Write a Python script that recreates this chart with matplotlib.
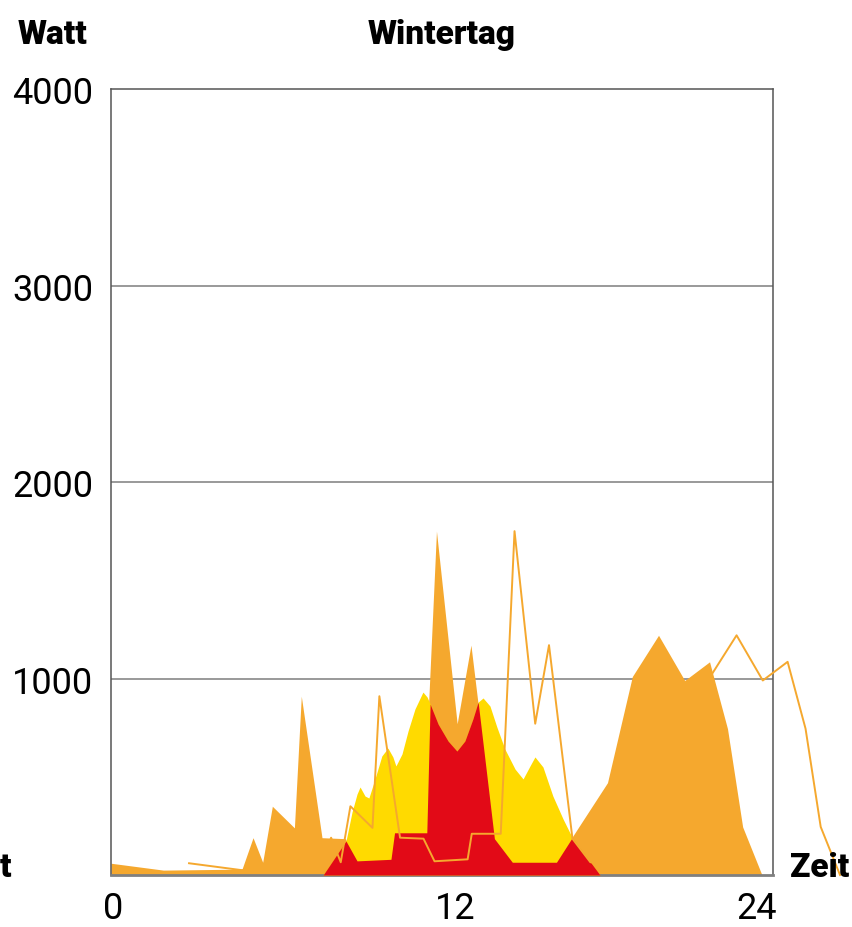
import matplotlib
matplotlib.use("Agg")
import matplotlib.pyplot as plt

# Verbrauch (orange Fläche), Stunde / Watt
verbrauch_h = [0, 1.9, 4.75, 5.15, 5.5, 5.85, 6.65, 6.9, 7.65, 8.5, 8.9, 10.1, 10.25,
               11.3, 11.8, 12.55, 13.05, 13.9, 14.55, 16.15, 16.75, 18.0, 18.9, 19.85,
               20.8, 21.7, 22.35, 22.9, 23.6]
verbrauch_w = [60, 25, 30, 190, 65, 350, 240, 910, 190, 185, 70, 80, 210,
               210, 1750, 770, 1170, 185, 65, 65, 200, 470, 1010, 1220,
               990, 1085, 745, 245, 0]

# verschobener Verbrauch (Linie)
linie_h = [2.83, 4.73, 7.58, 7.98, 8.33, 8.68, 9.48, 9.73, 10.48, 11.33, 11.73, 12.93, 13.08,
           14.13, 14.63, 15.38, 15.88, 16.73, 17.38, 18.98, 19.58, 20.83, 21.73, 22.68,
           23.63, 24.53, 25.18, 25.73, 26.43]
linie_w = verbrauch_w

# PV-Erzeugung (gelb)
pv_h = [7.69, 8.52, 8.74, 8.92, 9.03, 9.21, 9.35, 9.57, 9.82, 10.04, 10.22, 10.33, 10.55,
        10.77, 11.02, 11.31, 11.46, 11.57, 11.86, 12.22, 12.54, 12.83, 13.12, 13.31,
        13.49, 13.74, 13.99, 14.28, 14.65, 14.94, 15.19, 15.37, 15.66, 16.02, 16.39,
        16.75, 17.73]
pv_w = [0, 173, 321, 412, 448, 402, 392, 489, 606, 646, 601, 555, 616,
        733, 845, 931, 906, 870, 768, 682, 631, 682, 794, 880,
        901, 860, 753, 641, 539, 489, 555, 601, 550, 402, 285,
        183, 0]

# Eigenverbrauch (rot)
eigen_h = [7.69, 8.52, 8.92, 10.15, 10.28, 11.45, 11.57, 11.86, 12.22, 12.54, 12.83,
           13.12, 13.31, 13.9, 14.55, 16.15, 16.72, 17.73]
eigen_w = [0, 173, 72, 80, 215, 215, 870, 768, 682, 631, 682,
           794, 880, 185, 65, 65, 190, 0]

y_ticks = [1000, 2000, 3000, 4000]
x_labels = ["0", "12", "24"]

ORANGE = "#f5a82e"
GELB = "#ffda00"
ROT = "#e20a17"

schrift = ["Roboto", "DejaVu Sans"]

fig = plt.figure(figsize=(8.53, 9.28), dpi=100)
ax = fig.add_axes([0.1301, 0.0560, 0.7761, 0.8470])

ax.fill_between(verbrauch_h, verbrauch_w, color=ORANGE, lw=0, zorder=2)
ax.fill_between(pv_h, pv_w, color=GELB, lw=0, zorder=3)
ax.fill_between(eigen_h, eigen_w, color=ROT, lw=0, zorder=4)
ax.plot(linie_h, linie_w, color=ORANGE, lw=1.4, zorder=5, clip_on=False)

ax.set_xlim(0, 24)
ax.set_ylim(0, 4000)

for y in y_ticks[:-1]:
    ax.axhline(y, color="#888888", lw=1.2, zorder=1)

ax.set_yticks(y_ticks)
ax.set_yticklabels([str(v) for v in y_ticks], family=schrift, fontsize=26)
ax.set_xticks([0.07, 12.47, 23.42])
ax.set_xticklabels(x_labels, family=schrift, fontsize=26)
ax.tick_params(axis="y", length=0, pad=13)
ax.tick_params(axis="x", length=0, pad=11)

for s in ["left", "top", "right"]:
    ax.spines[s].set_color("#555555")
    ax.spines[s].set_linewidth(1.1)
ax.spines["bottom"].set_color("#808080")
ax.spines["bottom"].set_linewidth(2)

fett = dict(family=schrift, fontweight="black", fontsize=24, color="black")
fig.text(18 / 853, 1 - 44 / 928, "Watt", ha="left", va="baseline", **fett)
fig.text(442 / 853, 1 - 44 / 928, "Wintertag", ha="center", va="baseline", **fett)
fig.text(790 / 853, 1 - 877 / 928, "Zeit", ha="left", va="baseline", **fett)
fig.text(0, 1 - 877 / 928, "t", ha="left", va="baseline", **fett)

fig.savefig("out.png", dpi=100)
